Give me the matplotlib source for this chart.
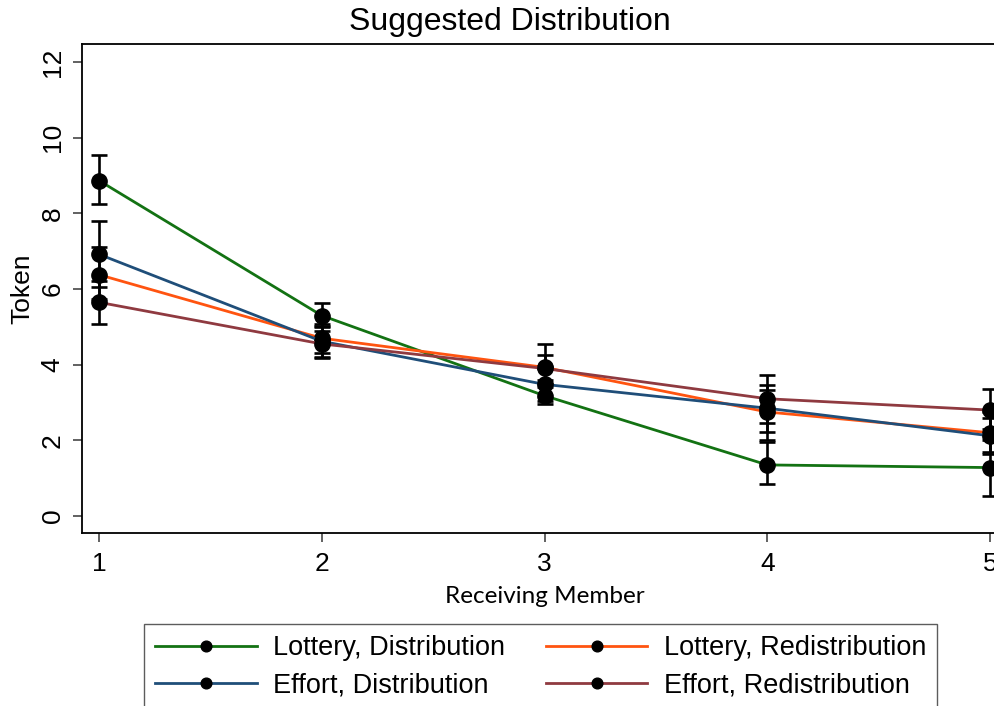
import numpy as np
import matplotlib
matplotlib.use('Agg')
from matplotlib import pyplot as plt

plt.rcParams['font.family'] = ['Liberation Sans', 'DejaVu Sans']

members = [1, 2, 3, 4, 5]

# mean suggested tokens and confidence bounds per treatment
lottery_dist = [8.87, 5.30, 3.18, 1.35, 1.28]
lottery_dist_lo = [8.25, 5.02, 2.96, 0.85, 0.53]
lottery_dist_hi = [9.55, 5.63, 3.40, 1.95, 2.00]

effort_dist = [6.92, 4.62, 3.48, 2.85, 2.12]
effort_dist_lo = [6.05, 4.18, 3.05, 2.22, 1.65]
effort_dist_hi = [7.80, 5.00, 3.90, 3.46, 2.60]

lottery_redist = [6.38, 4.70, 3.93, 2.75, 2.20]
lottery_redist_lo = [5.75, 4.20, 3.50, 2.02, 1.70]
lottery_redist_hi = [7.10, 5.08, 4.55, 3.33, 2.75]

effort_redist = [5.65, 4.55, 3.90, 3.10, 2.80]
effort_redist_lo = [5.08, 4.30, 3.60, 2.45, 2.30]
effort_redist_hi = [6.22, 4.90, 4.25, 3.73, 3.36]

series = [
    ('Lottery, Distribution', lottery_dist, lottery_dist_lo, lottery_dist_hi, '#137213'),
    ('Lottery, Redistribution', lottery_redist, lottery_redist_lo, lottery_redist_hi, '#ff5410'),
    ('Effort, Distribution', effort_dist, effort_dist_lo, effort_dist_hi, '#1f4e79'),
    ('Effort, Redistribution', effort_redist, effort_redist_lo, effort_redist_hi, '#8f3a40'),
]

W, H = 995, 706
fig = plt.figure(figsize=(W / 100, H / 100), dpi=100)
ax = fig.add_axes([82 / W, 1 - 533 / H, (1007 - 82) / W, (533 - 44) / H])

for label, mean, lo, hi, color in series:
    mean = np.array(mean)
    err = [mean - np.array(lo), np.array(hi) - mean]
    ax.errorbar(members, mean, yerr=err, fmt='none', ecolor='black',
                elinewidth=1.9, capsize=6, capthick=1.9, zorder=2)

handles = {}
for label, mean, lo, hi, color in series:
    h, = ax.plot(members, mean, color=color, lw=2.0, marker='o', markersize=11,
                 markerfacecolor='black', markeredgecolor='black', zorder=3)
    handles[label] = h

ax.set_xlim(0.924, 5.076)
ax.set_ylim(-0.45, 12.48)
ax.set_xticks(members)
ax.set_yticks(range(0, 13, 2))
ax.tick_params(axis='both', labelsize=19, length=6.5, width=1.3, color='#555555')
ax.tick_params(axis='x', pad=7)
ax.tick_params(axis='y', pad=6)
for t in ax.get_yticklabels():
    t.set_rotation(90)
    t.set_va('center')
for s in ax.spines.values():
    s.set_linewidth(1.3)

ax.set_ylabel('Token', fontsize=19)
ax.yaxis.set_label_coords(-0.052, 0.5)
ax.set_xlabel('Receiving Member', fontsize=17.5, family=['Lato', 'DejaVu Sans'])
ax.xaxis.set_label_coords(0.5, -0.108)

fig.text(510 / W, 1 - 22 / H, 'Suggested Distribution', fontsize=23,
         ha='center', va='center')

order = ['Lottery, Distribution', 'Effort, Distribution',
         'Lottery, Redistribution', 'Effort, Redistribution']
leg = fig.legend([handles[k] for k in order], order, ncol=2, loc='upper left',
                 bbox_to_anchor=(144 / W, 1 - 624 / H), borderaxespad=0,
                 fontsize=19.5, frameon=True, fancybox=False, markerscale=0.7,
                 handlelength=3.75, handletextpad=0.6, columnspacing=1.5,
                 labelspacing=0.42, borderpad=0.42)
leg.get_frame().set_edgecolor('#333333')
leg.get_frame().set_linewidth(1.0)

fig.savefig('out.png', dpi=100)
